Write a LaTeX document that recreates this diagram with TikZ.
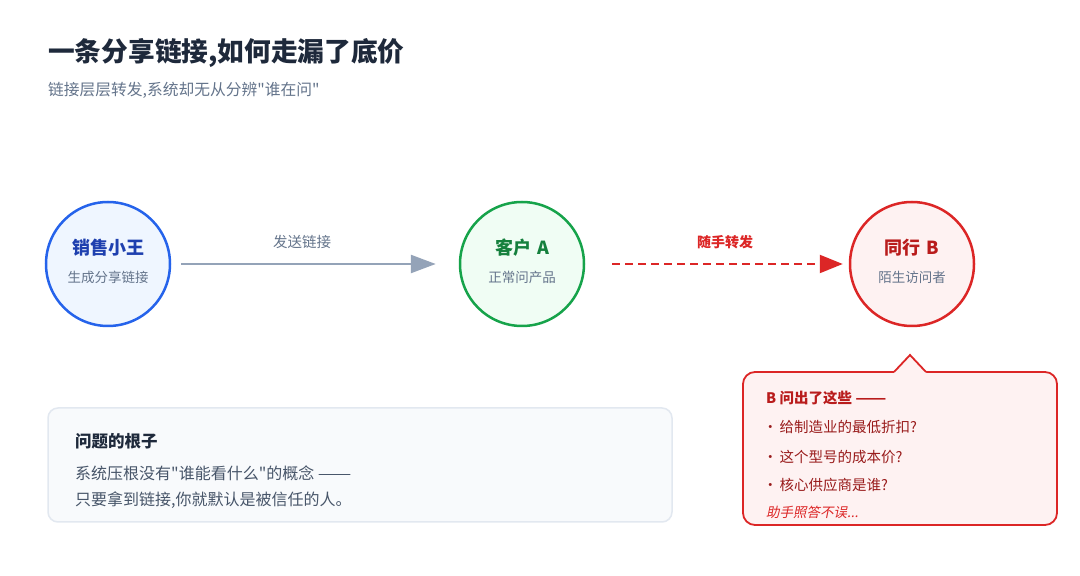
\documentclass[tikz,border=0pt]{standalone}
\usepackage{fontspec}
\usepackage{graphicx}
\setmainfont{Noto Sans CJK SC}[Ligatures=TeXOff]
\newfontfamily\slantfont[FakeSlant=0.2,Ligatures=TeXOff]{Noto Sans CJK SC}
\newcommand{\fwdash}{\scalebox{1.25}[1]{——}}
\usetikzlibrary{arrows.meta}
\definecolor{titlec}{HTML}{1E293B}
\definecolor{subc}{HTML}{64748B}
\definecolor{blueb}{HTML}{2563EB}
\definecolor{bluef}{HTML}{EFF6FF}
\definecolor{bluet}{HTML}{1E40AF}
\definecolor{greenb}{HTML}{16A34A}
\definecolor{greenf}{HTML}{F0FDF4}
\definecolor{greent}{HTML}{15803D}
\definecolor{redb}{HTML}{DC2626}
\definecolor{redf}{HTML}{FEF2F2}
\definecolor{redt}{HTML}{B91C1C}
\definecolor{redtext}{HTML}{991B1B}
\definecolor{arrowg}{HTML}{94A3B8}
\definecolor{boxb}{HTML}{E2E8F0}
\definecolor{boxf}{HTML}{F8FAFC}
\definecolor{boxt}{HTML}{475569}
\tikzset{
  actor/.style={circle, line width=2.5pt, minimum size=124pt, inner sep=0pt},
  ctitle/.style={font=\fontsize{18}{18}\selectfont\bfseries},
  csub/.style={font=\fontsize{13.5}{13.5}\selectfont, text=subc},
  txt/.style={anchor=west, inner sep=0pt},
  qtext/.style={txt, text=redtext, font=\fontsize{14.5}{14.5}\selectfont},
  btext/.style={txt, text=boxt, font=\fontsize{16}{16}\selectfont},
}
\begin{document}
\begin{tikzpicture}[x=1pt,y=1pt]
\useasboundingbox (0,0) rectangle (1080,576);
\fill[white] (0,0) rectangle (1080,576);

% title
\node[txt, text=titlec, font=\fontsize{26.7}{26.7}\selectfont\bfseries] (title) at (48,523) {一条分享链接,如何走漏了底价};
\node[txt, text=subc, font=\fontsize{15.75}{15.75}\selectfont] (subtitle) at (48,486) {链接层层转发,系统却无从分辨"谁在问"};

% actors
\node[actor, draw=blueb, fill=bluef] (c1) at (108,312) {};
\node[actor, draw=greenb, fill=greenf] (c2) at (522,312) {};
\node[actor, draw=redb, fill=redf] (c3) at (912,312) {};

\node[ctitle, text=bluet] (c1t) at (108,328) {销售小王};
\node[csub] (c1s) at (108,299) {生成分享链接};
\node[ctitle, text=greent] (c2t) at (522,328) {客户\hspace{2pt} A};
\node[csub] (c2s) at (522,299) {正常问产品};
\node[ctitle, text=redt] (c3t) at (912,328) {同行\hspace{2pt} B};
\node[csub] (c3s) at (912,299) {陌生访问者};

% connectors
\draw[arrowg, line width=2.5pt, -{Triangle[length=25pt,width=18pt]}, shorten <=10pt, shorten >=23pt] (c1) -- (c2);
\draw[redb, line width=2.2pt, dash pattern=on 8pt off 5pt, -{Triangle[length=23pt,width=18pt]}, shorten <=27pt, shorten >=6pt] (c2) -- (c3);
\node[text=subc, font=\fontsize{14.5}{14.5}\selectfont] (l1) at (302,334) {发送链接};
\node[text=redb, font=\fontsize{14}{14}\selectfont\bfseries] (l2) at (725,334) {随手转发};

% callout
\draw[redb, fill=redf, line width=1.8pt, rounded corners=12pt] (743,51) rectangle (1057,204);
\fill[redf] (894,201) -- (894,204) -- (910,221) -- (926,204) -- (926,201) -- cycle;
\draw[redb, line width=1.8pt, line join=miter] (894,204) -- (910,221) -- (926,204);
\node[txt, text=redt, font=\fontsize{14.5}{14.5}\selectfont\bfseries] (q0) at (766,178) {B 问出了这些 \fwdash};
\node[qtext] (q1) at (763,149) {·\hspace{2pt}给制造业的最低折扣?};
\node[qtext] (q2) at (763,119) {·\hspace{2pt}这个型号的成本价?};
\node[qtext] (q3) at (763,91) {·\hspace{2pt}核心供应商是谁?};
\node[txt, text=redb, font=\fontsize{13.5}{13.5}\slantfont] (q4) at (766,64) {助手照答不误...};

% root cause box
\draw[boxb, fill=boxf, line width=1.5pt, rounded corners=10pt] (48,54) rectangle (672,168);
\node[txt, text=titlec, font=\fontsize{16.5}{16.5}\selectfont\bfseries] (r0) at (75,135) {问题的根子};
\node[btext] (r1) at (75,103) {系统压根没有"谁能看什么"的概念 \fwdash};
\node[btext] (r2) at (75,76) {只要拿到链接,你就默认是被信任的人。};
\end{tikzpicture}
\end{document}
